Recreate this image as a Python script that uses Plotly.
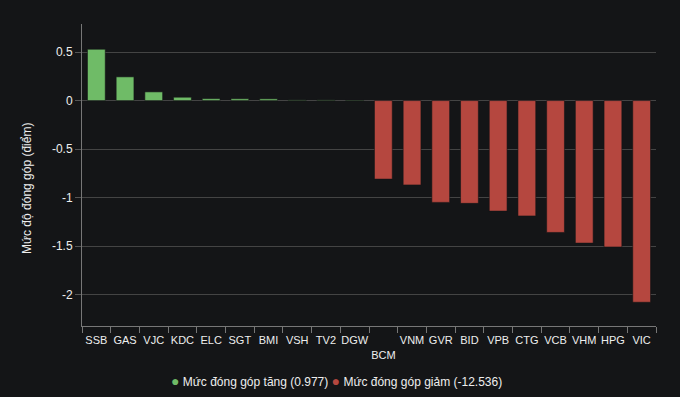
import plotly.graph_objects as go

up_codes = ["SSB", "GAS", "VJC", "KDC", "ELC", "SGT", "BMI", "VSH", "TV2", "DGW"]
up_vals = [0.53, 0.245, 0.09, 0.035, 0.02, 0.019, 0.018, 0.007, 0.007, 0.006]
down_codes = ["BCM", "VNM", "GVR", "BID", "VPB", "CTG", "VCB", "VHM", "HPG", "VIC"]
down_vals = [-0.81, -0.87, -1.05, -1.06, -1.14, -1.19, -1.36, -1.47, -1.51, -2.08]
legend_up = "Mức đóng góp tăng (0.977)"
legend_down = "Mức đóng góp giảm (-12.536)"
y_title = "Mức độ đóng góp (điểm)"
y_ticks = [0.5, 0, -0.5, -1, -1.5, -2]
y_ticklabels = ["0.5", "0", "-0.5", "-1", "-1.5", "-2"]

GREEN = "#6fbb67"
RED = "#b5473f"
BG = "#141517"
TXT = "#eeeeee"
FONT = "Liberation Sans, Arial, Helvetica, sans-serif"

L, R, T, B = 82, 24, 24, 71
W, H = 680, 397
PW, PH = W - L - R, H - T - B

categories = up_codes + down_codes
ticktext = [("<br>" + c if c == "BCM" else c) for c in categories]

fig = go.Figure()
fig.add_trace(go.Bar(x=up_codes, y=up_vals, name=legend_up,
                     marker=dict(color=GREEN, line=dict(color="rgba(20,21,23,0.6)", width=1)),
                     width=0.62, showlegend=False, hoverinfo="x+y"))
fig.add_trace(go.Bar(x=down_codes, y=down_vals, name=legend_down,
                     marker=dict(color=RED, line=dict(color="rgba(20,21,23,0.6)", width=1)),
                     width=0.62, showlegend=False, hoverinfo="x+y"))

legend_html = (f"<span style='color:{GREEN}; font-size:14px'>●</span> {legend_up}"
               f" <span style='color:{RED}; font-size:14px'>●</span> {legend_down}")
fig.add_annotation(text=legend_html, xref="paper", yref="paper",
                   x=(336 - L) / PW, y=-(381 - (T + PH)) / PH,
                   xanchor="center", yanchor="middle", showarrow=False,
                   font=dict(size=12, color=TXT, family=FONT))
fig.add_annotation(text=y_title, xref="paper", yref="paper",
                   x=(27 - L) / PW, y=((T + PH) - 189) / PH, textangle=-90,
                   xanchor="center", yanchor="middle", showarrow=False,
                   font=dict(size=12, color=TXT, family=FONT))

fig.update_layout(
    width=W, height=H,
    paper_bgcolor=BG, plot_bgcolor=BG,
    margin=dict(l=L, r=R, t=T, b=B),
    barmode="relative",
    showlegend=False,
    font=dict(family=FONT, color=TXT, size=11),
    xaxis=dict(type="category", categoryorder="array", categoryarray=categories,
               tickmode="array", tickvals=categories, ticktext=ticktext, tickangle=0,
               tickson="boundaries", ticks="outside", ticklen=6, tickcolor="#777",
               ticklabelstandoff=4,
               showline=True, linecolor="#777", linewidth=1, showgrid=False,
               tickfont=dict(size=11, color=TXT), zeroline=False,
               range=[-0.5, 19.5], fixedrange=True),
    yaxis=dict(range=[-2.325, 0.79], tickmode="array", tickvals=y_ticks, ticktext=y_ticklabels,
               ticks="outside", ticklen=6, tickcolor="#555",
               showline=True, linecolor="#777", linewidth=1,
               showgrid=True, gridcolor="#444", gridwidth=1,
               zeroline=True, zerolinecolor="#444", zerolinewidth=1,
               tickfont=dict(size=12, color=TXT),
               fixedrange=True),
)

fig.write_html("out.html", config={"displayModeBar": False},
               post_script="document.body.style.margin='0';document.body.style.background='#141517';")
